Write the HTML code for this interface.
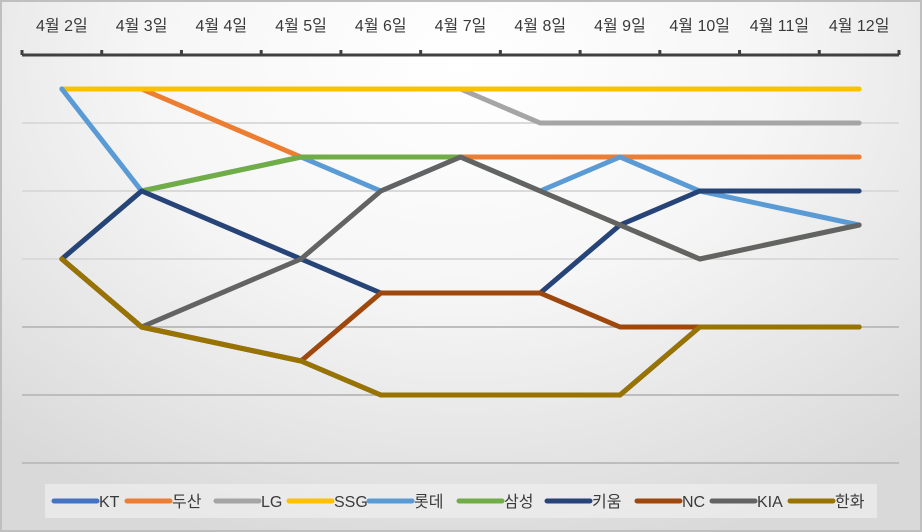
<!DOCTYPE html>
<html><head><meta charset="utf-8">
<style>
html,body{margin:0;padding:0;}
body{width:922px;height:532px;overflow:hidden;}
#wrap{position:relative;width:918px;height:528px;border:2px solid #bfbfbf;background:radial-gradient(ellipse 75% 95% at 50% 12%,#ffffff 0%,#f6f6f6 45%,#d9d9d9 100%);font-family:"Liberation Sans","Noto Sans CJK KR",sans-serif;}
svg{position:absolute;left:-2px;top:-2px;}
</style></head>
<body>
<div id="wrap">
<svg id="chart" width="922" height="532"></svg>
</div>
<script>
const categories=["4월 2일","4월 3일","4월 4일","4월 5일","4월 6일","4월 7일","4월 8일","4월 9일","4월 10일","4월 11일","4월 12일"];
const teams=["KT","두산","LG","SSG","롯데","삼성","키움","NC","KIA","한화"];
const colors=["#4472c4","#ed7d31","#a5a5a5","#ffc000","#5b9bd5","#70ad47","#264478","#9e480e","#636363","#997300"];
const rKT=[6,8,null,9,10,10,10,10,8,null,8];
const rDoosan=[1,1,null,3,3,3,3,3,3,null,3];
const rLG=[1,1,null,1,1,1,2,2,2,null,2];
const rSSG=[1,1,null,1,1,1,1,1,1,null,1];
const rLotte=[1,4,null,3,4,3,4,3,4,null,5];
const rSamsung=[6,4,null,3,3,3,4,5,6,null,5];
const rKiwoom=[6,4,null,6,7,7,7,5,4,null,4];
const rNC=[6,8,null,9,7,7,7,8,8,null,8];
const rKIA=[6,8,null,6,4,3,4,5,6,null,5];
const rHanwha=[6,8,null,9,10,10,10,10,8,null,8];
const series=[rKT,rDoosan,rLG,rSSG,rLotte,rSamsung,rKiwoom,rNC,rKIA,rHanwha];
const gridRanks=[2,4,6,8,10,12];

const NS="http://www.w3.org/2000/svg";
const svg=document.getElementById("chart");
const x0=22,x1=899,catW=(x1-x0)/categories.length;
const xPos=i=>x0+catW*(i+0.5);
const yPos=r=>55+r*34;
function mk(t,a){const e=document.createElementNS(NS,t);for(const k in a)e.setAttribute(k,a[k]);svg.appendChild(e);return e;}

gridRanks.forEach(r=>{
  const g=mk("line",{x1:x0,x2:x1,y1:yPos(r),y2:yPos(r),stroke:r>6?"#bdbdbd":"#dadada","stroke-width":2});
  
  
});
const ax=mk("line",{x1:x0,x2:x1,y1:yPos(0),y2:yPos(0),stroke:"#404040","stroke-width":3});


for(let i=0;i<=categories.length;i++){
  const t=mk("line",{x1:x0+catW*i,x2:x0+catW*i,y1:yPos(0)-5,y2:yPos(0),stroke:"#404040","stroke-width":3});
  
  
}
categories.forEach((c,i)=>{
  const t=mk("text",{x:xPos(i),y:31,"text-anchor":"middle","font-size":"16","fill":"#3a3a3a"});
  t.textContent=c;
  
  
});
series.forEach((s,k)=>{
  let d="",pen=false;
  s.forEach((v,i)=>{if(v==null)return;d+=(pen?"L":"M")+xPos(i).toFixed(1)+","+yPos(v)+" ";pen=true;});
  const p=mk("path",{d:d,fill:"none",stroke:colors[k],"stroke-width":5,"stroke-linecap":"round","stroke-linejoin":"round"});
  
  
});
const lb=mk("rect",{x:45,y:484,width:832,height:34,fill:"#f2f2f2","fill-opacity":0.6});


const lx=[54,127,216,289,369,459,547,637,712,790];
teams.forEach((t,k)=>{
  const l=mk("line",{x1:lx[k],x2:lx[k]+43,y1:501,y2:501,stroke:colors[k],"stroke-width":5,"stroke-linecap":"round"});
  
  
  const tx=mk("text",{x:lx[k]+45,y:507,"font-size":"16","fill":"#3a3a3a"});
  tx.textContent=t;
  
  
});
</script>
</body></html>
